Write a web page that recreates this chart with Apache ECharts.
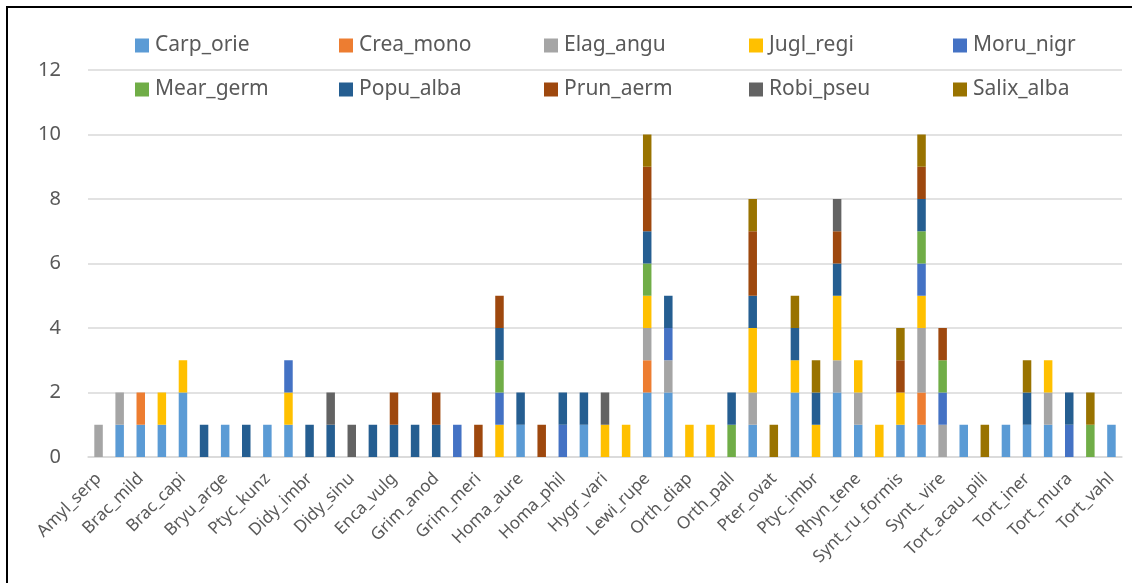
<!DOCTYPE html>
<html>
<head>
<meta charset="utf-8">
<script src="https://cdn.jsdelivr.net/npm/echarts@6/dist/echarts.min.js"></script>
<style>
html,body{margin:0;padding:0;background:#fff;}
#chart{width:1137px;height:583px;}
</style>
</head>
<body>
<div id="chart"></div>
<script>
// Category labels (every other category label is hidden in the original)
const categories = [
  'Amyl_serp','', 'Brac_mild','', 'Brac_capi','', 'Bryu_arge','', 'Ptyc_kunz','',
  'Didy_imbr','', 'Didy_sinu','', 'Enca_vulg','', 'Grim_anod','', 'Grim_meri','',
  'Homa_aure','', 'Homa_phil','', 'Hygr_vari','', 'Lewi_rupe','', 'Orth_diap','',
  'Orth_pall','', 'Pter_ovat','', 'Ptyc_imbr','', 'Rhyn_tene','', 'Synt_ru_formis','',
  'Synt_ vire','', 'Tort_acau_pili','', 'Tort_iner','', 'Tort_mura','', 'Tort_vahl'
];
const seriesNames = ['Carp_orie','Crea_mono','Elag_angu','Jugl_regi','Moru_nigr','Mear_germ','Popu_alba','Prun_aerm','Robi_pseu','Salix_alba'];
const Carp_orie  = [0,1,1,1,2,0,1,0,1,1, 0,0,0,0,0,0,0,0,0,0, 1,0,0,1,0,0,2,2,0,0, 0,1,0,2,0,2,1,0,1,1, 0,1,0,1,1,1,0,0,1];
const Crea_mono  = [0,0,1,0,0,0,0,0,0,0, 0,0,0,0,0,0,0,0,0,0, 0,0,0,0,0,0,1,0,0,0, 0,0,0,0,0,0,0,0,0,1, 0,0,0,0,0,0,0,0,0];
const Elag_angu  = [1,1,0,0,0,0,0,0,0,0, 0,0,0,0,0,0,0,0,0,0, 0,0,0,0,0,0,1,1,0,0, 0,1,0,0,0,1,1,0,0,2, 1,0,0,0,0,1,0,0,0];
const Jugl_regi  = [0,0,0,1,1,0,0,0,0,1, 0,0,0,0,0,0,0,0,0,1, 0,0,0,0,1,1,1,0,1,1, 0,2,0,1,1,2,1,1,1,1, 0,0,0,0,0,1,0,0,0];
const Moru_nigr  = [0,0,0,0,0,0,0,0,0,1, 0,0,0,0,0,0,0,1,0,1, 0,0,1,0,0,0,0,1,0,0, 0,0,0,0,0,0,0,0,0,1, 1,0,0,0,0,0,1,0,0];
const Mear_germ  = [0,0,0,0,0,0,0,0,0,0, 0,0,0,0,0,0,0,0,0,1, 0,0,0,0,0,0,1,0,0,0, 1,0,0,0,0,0,0,0,0,1, 1,0,0,0,0,0,0,1,0];
const Popu_alba  = [0,0,0,0,0,1,0,1,0,0, 1,1,0,1,1,1,1,0,0,1, 1,0,1,1,0,0,1,1,0,0, 1,1,0,1,1,1,0,0,0,1, 0,0,0,0,1,0,1,0,0];
const Prun_aerm  = [0,0,0,0,0,0,0,0,0,0, 0,0,0,0,1,0,1,0,1,1, 0,1,0,0,0,0,2,0,0,0, 0,2,0,0,0,1,0,0,1,1, 1,0,0,0,0,0,0,0,0];
const Robi_pseu  = [0,0,0,0,0,0,0,0,0,0, 0,1,1,0,0,0,0,0,0,0, 0,0,0,0,1,0,0,0,0,0, 0,0,0,0,0,1,0,0,0,0, 0,0,0,0,0,0,0,0,0];
const Salix_alba = [0,0,0,0,0,0,0,0,0,0, 0,0,0,0,0,0,0,0,0,0, 0,0,0,0,0,0,1,0,0,0, 0,1,1,1,1,0,0,0,1,1, 0,0,1,0,1,0,0,1,0];
const yTicks = [0,2,4,6,8,10,12];

const seriesData = [Carp_orie,Crea_mono,Elag_angu,Jugl_regi,Moru_nigr,Mear_germ,Popu_alba,Prun_aerm,Robi_pseu,Salix_alba];
const colors = ['#5B9BD5','#ED7D31','#A5A5A5','#FFC000','#4472C4','#70AD47','#255E91','#9E480E','#636363','#997300'];
const FONT = 'Noto Sans';
const TXT = '#595959';

// legend layout: 5 per row
const legendLefts = [135, 339, 544, 749, 953];
const legendTops = [35, 79];
const legends = seriesNames.map((n,i)=>({
  orient:'horizontal', left:legendLefts[i%5], top:legendTops[Math.floor(i/5)],
  itemWidth:14, itemHeight:14, itemGap:0, icon:'rect', selectedMode:false,
  padding:0,
  textStyle:{fontFamily:FONT, fontSize:21, color:TXT, padding:[0,0,0,1]},
  data:[n]
}));

const chart = echarts.init(document.getElementById('chart'), null, {renderer:'canvas'});
chart.setOption({
  animation:false,
  color: colors,
  textStyle:{fontFamily:FONT},
  legend: legends,
  grid:{left:88, right:15, top:70, bottom:126, containLabel:false},
  xAxis:{
    type:'category', data:categories,
    axisLine:{show:true, lineStyle:{color:'#D9D9D9', width:1.5}},
    axisTick:{show:false},
    axisLabel:{interval:0, rotate:45, fontFamily:FONT, fontSize:17, color:TXT, margin:19}
  },
  yAxis:{
    type:'value', min:yTicks[0], max:yTicks[yTicks.length-1], interval:2,
    axisLine:{show:false}, axisTick:{show:false},
    splitLine:{lineStyle:{color:'#D9D9D9', width:1.5}},
    axisLabel:{fontFamily:FONT, fontSize:20, color:TXT, margin:27}
  },
  series: seriesNames.map((n,i)=>({
    name:n, type:'bar', stack:'total', data:seriesData[i],
    barWidth:8.5,
    itemStyle:{color:colors[i]}
  })),
  graphic:[
    {type:'line', shape:{x1:7, y1:7, x2:1132, y2:7}, style:{stroke:'#000', lineWidth:2}},
    {type:'line', shape:{x1:7, y1:6, x2:7, y2:583}, style:{stroke:'#000', lineWidth:2}}
  ]
});
</script>
</body>
</html>
